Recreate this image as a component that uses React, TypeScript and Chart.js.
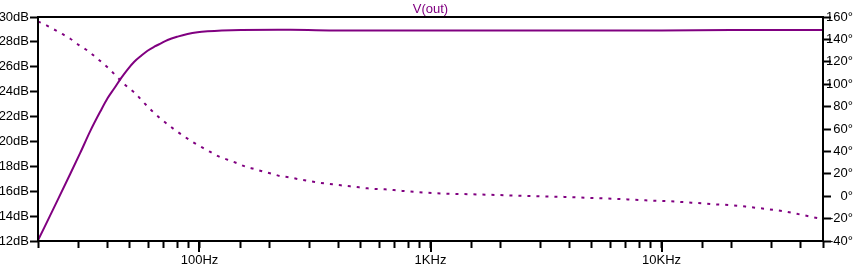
import React, { useEffect, useRef } from 'react';
import { Chart, registerables } from 'chart.js';

Chart.register(...registerables);

const TITLE = 'V(out)';

// Magnitude (dB) vs frequency (Hz)
const magFreq = [20, 24.2, 27.6, 30.5, 33.7, 37.2, 40.0, 42.8, 45.7, 48.9, 52.2, 55.8, 59.6, 63.7, 68.1, 72.8, 80.4, 88.8, 98.1, 108.4, 125, 151, 248, 400, 1000, 5000, 10000, 20000, 50000];
const magDb = [12.05, 15.2, 17.4, 19.1, 20.85, 22.4, 23.47, 24.27, 25.07, 25.8, 26.41, 26.87, 27.29, 27.61, 27.88, 28.15, 28.42, 28.63, 28.77, 28.85, 28.92, 28.96, 28.97, 28.92, 28.91, 28.91, 28.92, 28.95, 28.96];

// Phase (degrees) vs frequency (Hz)
const phaseFreq = [20, 21.3, 23.4, 25.2, 27.6, 30.2, 32.6, 35.6, 40.4, 43.9, 47.7, 52.7, 57.3, 62.2, 68.1, 77.7, 85, 93.4, 101.4, 110.9, 121.7, 132.3, 143.7, 158.7, 172.4, 187.5, 205.7, 223.4, 244.3, 265.7, 290.5, 315.6, 346.2, 376.4, 409, 448.5, 490.6, 533.5, 585.3, 635.8, 695.3, 755.8, 1064, 1503, 2136, 2998, 3909, 5066, 6537, 8527, 11013, 14268, 16840, 20220, 23860, 28460, 33810, 40210, 47430, 50000];
const phaseDeg = [156, 153.5, 149, 145.4, 140.6, 134.7, 130.3, 124, 114.2, 106.7, 99.3, 91.9, 83.8, 76.3, 69, 59.7, 54, 48.4, 44.2, 39.7, 35.3, 32.6, 29.9, 26.3, 24.3, 22.2, 20.1, 18, 16.9, 15.4, 13.9, 12.7, 11.5, 10.6, 9.7, 8.8, 7.9, 7, 6.4, 6.1, 5.5, 4.7, 2.6, 1.7, 0.8, -0.1, -0.7, -1.6, -2.5, -3.7, -4.6, -6.1, -7.2, -8.1, -9.6, -11.4, -13.5, -16.5, -19.5, -20.2];

const xTickValues = [100, 1000, 10000];
const xTickLabels = ['100Hz', '1KHz', '10KHz'];

const PURPLE = '#800080';
const FONT = '"Liberation Sans", Arial, sans-serif';

const framePlugin = {
  id: 'frame',
  afterDraw(chart: any) {
    const { ctx, chartArea: a } = chart;
    ctx.save();
    ctx.strokeStyle = '#000';
    ctx.lineWidth = 2;
    ctx.strokeRect(a.left, a.top, a.right - a.left, a.bottom - a.top);
    const xs = chart.scales.x;
    ctx.beginPath();
    for (const v of xTickValues) {
      const px = Math.round(xs.getPixelForValue(v));
      ctx.moveTo(px, a.bottom);
      ctx.lineTo(px, a.bottom + 11);
    }
    ctx.stroke();
    ctx.fillStyle = PURPLE;
    ctx.font = `13px ${FONT}`;
    ctx.textAlign = 'center';
    ctx.textBaseline = 'middle';
    ctx.fillText(TITLE, (a.left + a.right) / 2, 9);
    ctx.restore();
  },
};

export default function App() {
  const ref = useRef<HTMLCanvasElement | null>(null);

  useEffect(() => {
    if (!ref.current) return;
    const tickFont = { family: FONT, size: 13 };
    const gridCommon = {
      display: true,
      drawOnChartArea: false,
      drawTicks: true,
      tickLength: 8,
      tickWidth: 2,
      tickColor: '#000',
      color: '#000',
    };
    const chart = new Chart(ref.current, {
      type: 'line',
      data: {
        datasets: [
          {
            label: 'mag',
            data: magFreq.map((f, i) => ({ x: f, y: magDb[i] })),
            borderColor: PURPLE,
            borderWidth: 2,
            pointRadius: 0,
            cubicInterpolationMode: 'monotone',
            yAxisID: 'y',
          },
          {
            label: 'phase',
            data: phaseFreq.map((f, i) => ({ x: f, y: phaseDeg[i] })),
            borderColor: PURPLE,
            borderWidth: 2,
            borderDash: [3, 6],
            pointRadius: 0,
            cubicInterpolationMode: 'monotone',
            yAxisID: 'y1',
          },
        ],
      },
      options: {
        animation: false,
        responsive: false,
        devicePixelRatio: 1,
        layout: { padding: { top: 17, right: 11, left: 0, bottom: 0 } },
        plugins: {
          legend: { display: false },
          tooltip: { enabled: false },
          title: { display: false },
        },
        scales: {
          x: {
            type: 'logarithmic',
            min: 20,
            max: 50000,
            grid: { ...gridCommon, tickLength: 7 },
            border: { display: false },
            ticks: {
              autoSkip: false,
              maxRotation: 0,
              minRotation: 0,
              color: '#000',
              font: tickFont,
              padding: 5,
              callback: (v: any) => {
                const n = Number(v);
                const idx = xTickValues.findIndex((t) => Math.abs(t - n) < 1e-6 * t);
                return idx >= 0 ? xTickLabels[idx] : '';
              },
            },
            afterFit: (s: any) => {
              s.height = 26;
            },
          },
          y: {
            position: 'left',
            min: 12,
            max: 30,
            grid: gridCommon,
            border: { display: false },
            ticks: {
              stepSize: 2,
              color: '#000',
              font: tickFont,
              padding: 1,
              callback: (v: any) => `${v}dB`,
            },
            afterFit: (s: any) => {
              s.width = 38;
            },
          },
          y1: {
            position: 'right',
            min: -40,
            max: 160,
            grid: gridCommon,
            border: { display: false },
            ticks: {
              stepSize: 20,
              color: '#000',
              font: tickFont,
              padding: 1,
              crossAlign: 'far',
              callback: (v: any) => `${v}°`,
            },
            afterFit: (s: any) => {
              s.width = 30;
            },
          },
        },
      } as any,
      plugins: [framePlugin],
    });
    return () => chart.destroy();
  }, []);

  return (
    <div style={{ position: 'absolute', left: 0, top: 0, width: 864, height: 267, background: '#fff' }}>
      <canvas ref={ref} width={864} height={267} style={{ display: 'block' }} />
    </div>
  );
}
